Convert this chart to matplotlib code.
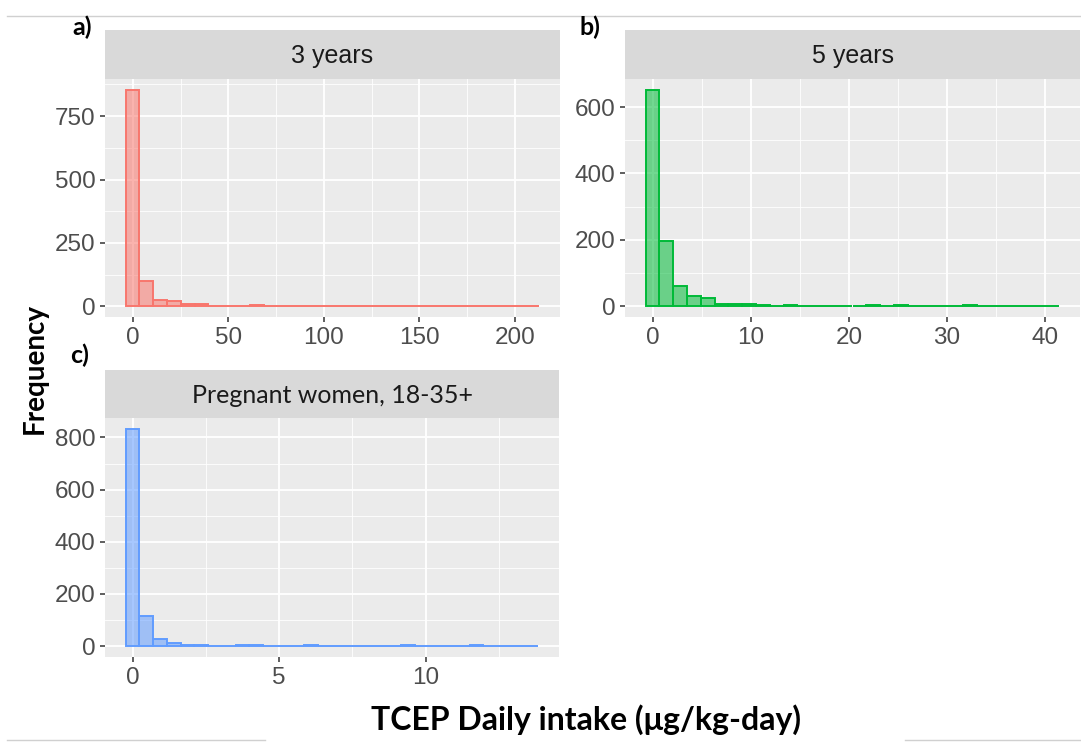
import matplotlib
matplotlib.use("Agg")
import matplotlib.pyplot as plt
from matplotlib.lines import Line2D
import numpy as np

# histogram counts (30 bins each, ggplot style)
counts_3y = [854, 98, 25, 19, 10, 7, 2, 1, 1, 3, 1, 1, 0, 1, 0,
             1, 0, 0, 1, 0, 0, 0, 0, 0, 0, 1, 0, 0, 0, 1]
counts_5y = [652, 196, 60, 32, 25, 8, 7, 6, 3, 2, 4, 2, 1, 1, 2,
             1, 3, 1, 4, 1, 1, 1, 1, 3, 1, 1, 1, 1, 2, 2]
counts_preg = [833, 115, 26, 13, 6, 3, 2, 2, 4, 3, 1, 1, 1, 3, 1,
               1, 1, 0, 1, 1, 3, 1, 1, 0, 1, 3, 1, 1, 1, 2]

# first bin edge and bin width of each panel
bins_3y = (-3.7, 7.217)
bins_5y = (-0.77, 1.409)
bins_preg = (-0.24, 0.4697)

titles = ["3 years", "5 years", "Pregnant women, 18-35+"]
tags = ["a)", "b)", "c)"]
colors = ["#F8766D", "#00BA38", "#619CFF"]
xmajor = [[0, 50, 100, 150, 200], [0, 10, 20, 30, 40], [0, 5, 10]]
xminor = [[25, 75, 125, 175], [5, 15, 25, 35], [2.5, 7.5, 12.5]]
ymajor = [[0, 250, 500, 750], [0, 200, 400, 600], [0, 200, 400, 600, 800]]
yminor = [[125, 375, 625, 875], [100, 300, 500], [100, 300, 500, 700]]

W, H = 1081, 745
fig = plt.figure(figsize=(W / 100, H / 100), dpi=100)

def rect(l, t, r, b):
    return [l / W, 1 - b / H, (r - l) / W, (b - t) / H]

# pixel boxes: (plot area), (strip), tag position
boxes = [((105, 79, 560, 317), (105, 30, 560, 79), (82, 27)),
         ((625, 79, 1080, 317), (625, 30, 1080, 79), (590, 27)),
         ((105, 418, 559, 657), (105, 370, 559, 418), (80, 355))]

data = [(counts_3y, bins_3y), (counts_5y, bins_5y), (counts_preg, bins_preg)]
strip_fonts = ["Liberation Sans", "Liberation Sans", "Lato"]

for i, ((cnt, (x0, bw)), (pbox, sbox, tpos)) in enumerate(zip(data, boxes)):
    ax = fig.add_axes(rect(*pbox))
    cnt = np.array(cnt)
    left = x0 + bw * np.arange(len(cnt))
    ax.bar(left, cnt, width=bw, align="edge", color=colors[i], alpha=0.55,
           edgecolor="none", zorder=3)
    ax.bar(left, cnt, width=bw, align="edge", facecolor="none",
           edgecolor=colors[i], linewidth=1.4, zorder=4)
    span = bw * len(cnt)
    ax.set_xlim(x0 - 0.05 * span, x0 + 1.05 * span)
    ax.set_ylim(-0.05 * cnt.max(), 1.05 * cnt.max())
    ax.set_facecolor("#EBEBEB")
    for s in ax.spines.values():
        s.set_visible(False)
    ax.set_xticks(xmajor[i])
    ax.set_yticks(ymajor[i])
    ax.set_xticks(xminor[i], minor=True)
    ax.set_yticks(yminor[i], minor=True)
    ax.grid(which="major", color="white", lw=1.3, zorder=0)
    ax.grid(which="minor", color="white", lw=0.6, zorder=0)
    ax.set_axisbelow(True)
    ax.tick_params(which="major", length=3.5, width=1.1, color="#333333",
                   labelsize=17.5, labelcolor="#4D4D4D", pad=3.5)
    ax.tick_params(which="minor", length=0)
    for lab in ax.get_xticklabels() + ax.get_yticklabels():
        lab.set_family("Liberation Sans")

    sax = fig.add_axes(rect(*sbox))
    sax.set_facecolor("#D9D9D9")
    sax.set_xticks([]); sax.set_yticks([])
    for s in sax.spines.values():
        s.set_visible(False)
    sax.text(0.5, 0.47, titles[i], ha="center", va="center", fontsize=18,
             color="#1A1A1A", family=strip_fonts[i], transform=sax.transAxes)

    fig.text(tpos[0] / W, 1 - tpos[1] / H, tags[i], ha="center", va="center",
             fontsize=18, fontweight="bold", family="Lato")

fig.text(35 / W, 1 - 368 / H, "Frequency", rotation=90, ha="center", va="center",
         fontsize=20, fontweight="bold", family="Lato")
fig.text(586 / W, 1 - 720 / H, "TCEP Daily intake (μg/kg-day)", ha="center",
         va="center", fontsize=23, fontweight="bold", family="Lato")

# thin frame remnants of the original screenshot
fig.add_artist(Line2D([7 / W, 1], [1 - 16 / H, 1 - 16 / H], color="#D0D0D0", lw=1))
fig.add_artist(Line2D([7 / W, 265 / W], [1 - 740 / H, 1 - 740 / H], color="#D0D0D0", lw=1))
fig.add_artist(Line2D([905 / W, 1], [1 - 740 / H, 1 - 740 / H], color="#D0D0D0", lw=1))

fig.savefig("out.png", dpi=100)
